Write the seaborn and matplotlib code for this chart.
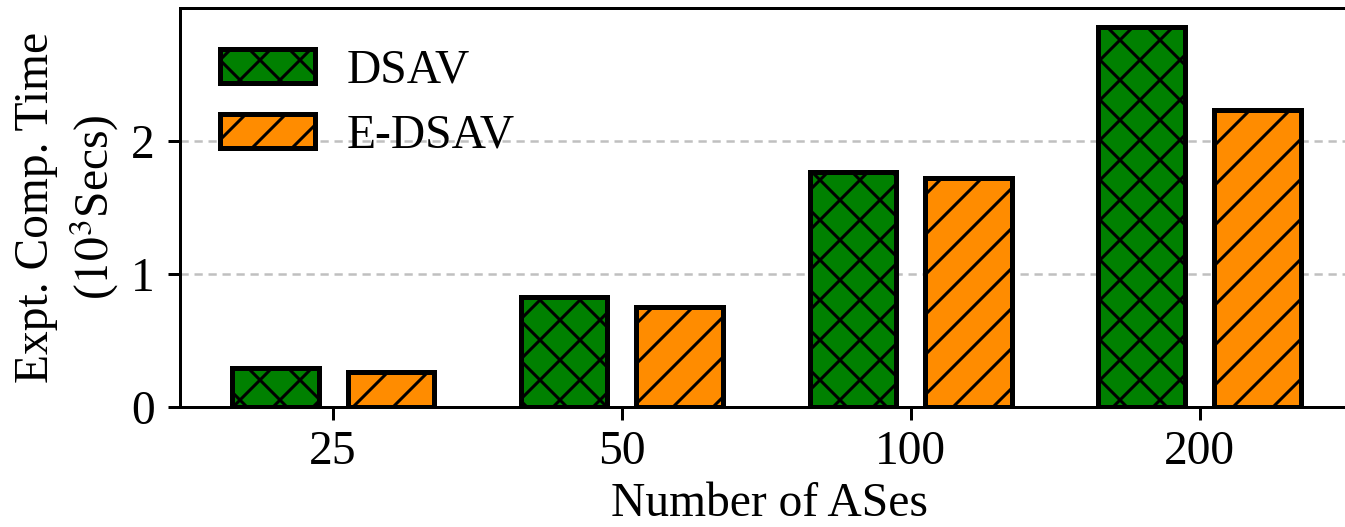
import matplotlib
matplotlib.use("Agg")
import matplotlib.pyplot as plt
import seaborn as sns
import pandas as pd

# Data
num_ases = ["25", "50", "100", "200"]
dsav = [0.29, 0.83, 1.77, 2.86]
e_dsav = [0.26, 0.75, 1.72, 2.23]
series_names = ["DSAV", "E-DSAV"]
colors = ["#008000", "#FF8C00"]
hatches = ["xx", "//"]

df = pd.DataFrame({
    "ases": num_ases * 2,
    "time": dsav + e_dsav,
    "method": [series_names[0]] * len(num_ases) + [series_names[1]] * len(num_ases),
})

sns.set_theme(style="white")
plt.rcParams["font.family"] = ["Liberation Serif", "DejaVu Serif"]
plt.rcParams["mathtext.fontset"] = "stix"
plt.rcParams["hatch.linewidth"] = 0.9
plt.rcParams["hatch.color"] = "black"
plt.rcParams["text.color"] = "black"
plt.rcParams["axes.labelcolor"] = "black"

FS = 14.25
LW = 1.5
dpi = 240
fig = plt.figure(figsize=(1345 / dpi, 527 / dpi), dpi=dpi)
ax = fig.add_axes([180 / 1345, 1 - 407 / 527, 1 - 180 / 1345 + 0.01, (407 - 8) / 527])

sns.barplot(data=df, x="ases", y="time", hue="method", order=num_ases,
            hue_order=series_names, palette=colors, width=0.8, gap=0.25,
            edgecolor="black", linewidth=LW, saturation=1, ax=ax, zorder=3)

# hatch per series
for container, h in zip(ax.containers, hatches):
    for patch in container:
        patch.set_hatch(h)
        patch.set_edgecolor("black")

ax.set_xlim(-0.53, 3.55)
ax.set_ylim(0, 3.0)
ax.set_yticks([0, 1, 2])
ax.yaxis.grid(True, linestyle=(0, (3.3, 2.3)), color="#c0c0c0", linewidth=0.75, zorder=0)
ax.set_axisbelow(True)

for side in ["left", "bottom", "top"]:
    ax.spines[side].set_visible(True)
    ax.spines[side].set_color("black")
    ax.spines[side].set_linewidth(0.9)
ax.spines["right"].set_visible(False)

ax.tick_params(axis="both", direction="out", length=3.75, width=0.9, colors="black",
               labelsize=FS, bottom=True, left=True)
ax.tick_params(axis="x", pad=3)
ax.tick_params(axis="y", pad=3.75)

ax.set_xlabel("Number of ASes", fontsize=FS, labelpad=2.5, color="black")
ax.set_ylabel("Expt. Comp. Time\n($10^3$Secs)", fontsize=FS, labelpad=3,
              linespacing=1.22, color="black")

handles, labels = ax.get_legend_handles_labels()
for hnd, h in zip(handles, hatches):
    hnd.set_hatch(h)
    hnd.set_edgecolor("black")
    hnd.set_linewidth(LW)
leg = ax.legend(handles, labels, loc="upper left", bbox_to_anchor=(0.01, 0.97),
                frameon=False, fontsize=FS, handlelength=2.0, handleheight=0.72,
                handletextpad=0.65, labelspacing=0.45, borderaxespad=0.2)
for t in leg.get_texts():
    t.set_color("black")

fig.savefig("out.png", dpi=dpi)
